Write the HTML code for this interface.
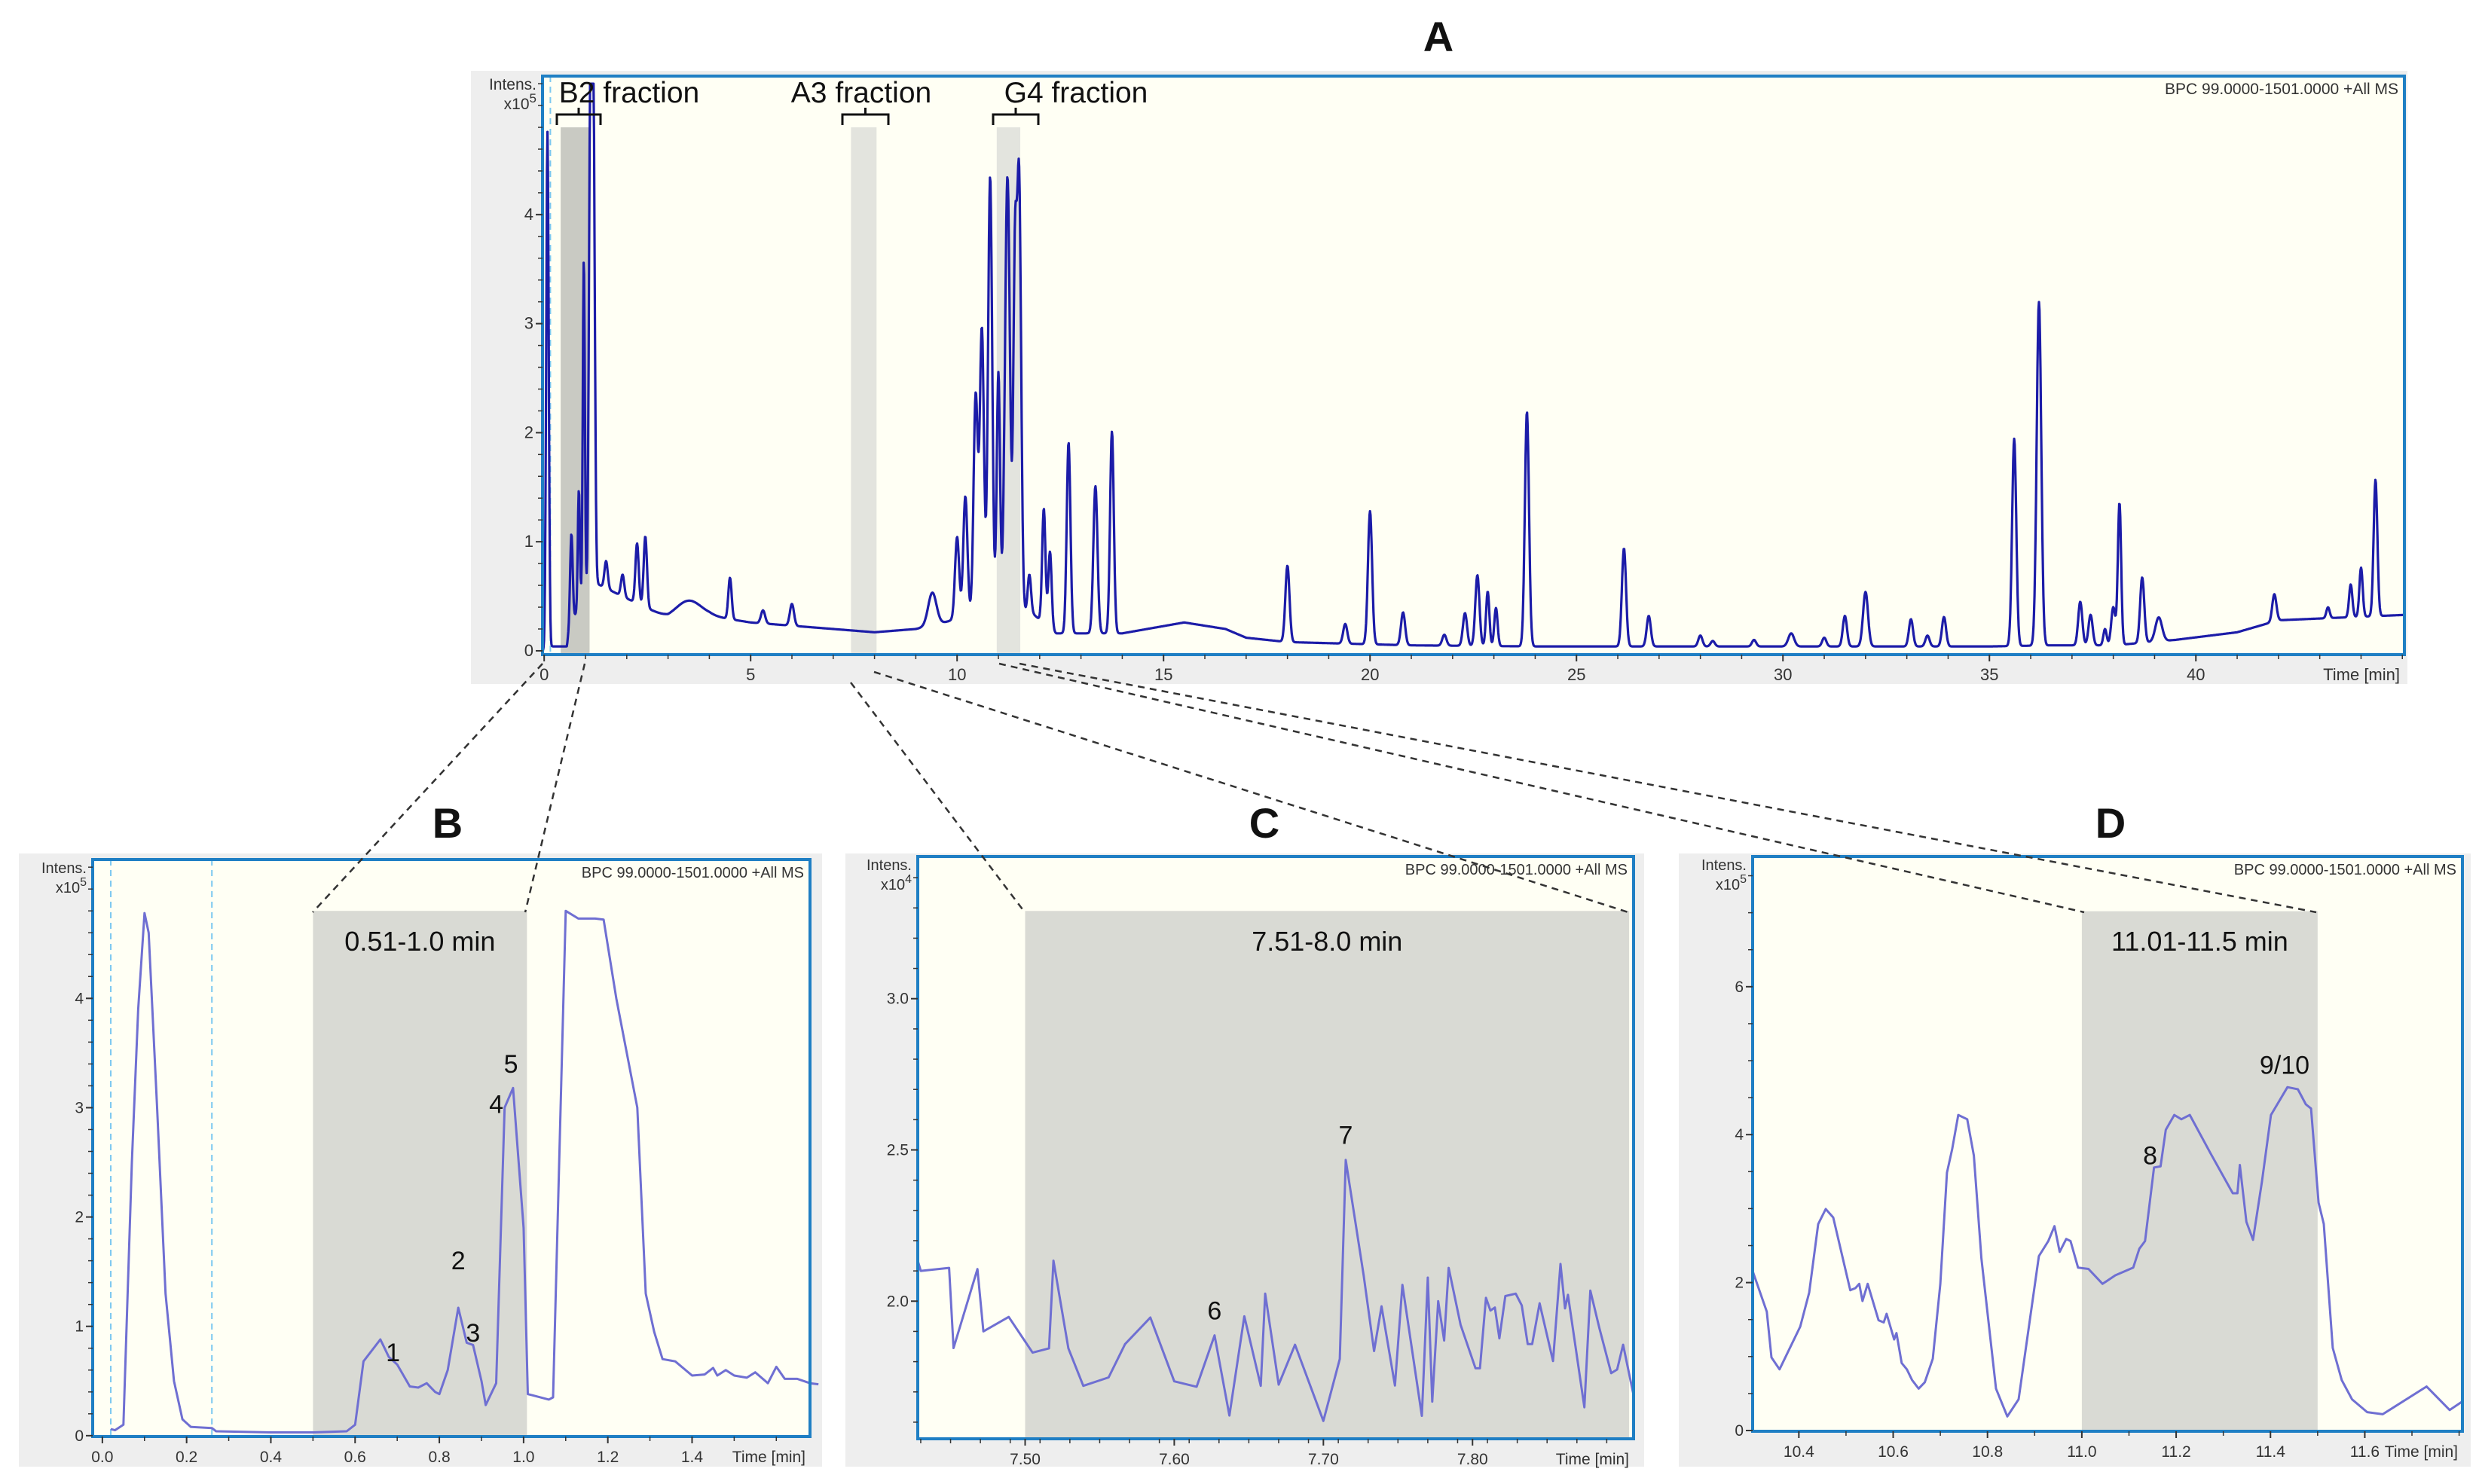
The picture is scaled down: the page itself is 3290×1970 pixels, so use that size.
<!DOCTYPE html>
<html><head><meta charset="utf-8"><style>
html,body{margin:0;padding:0;background:#fff}
svg{display:block;font-family:"Liberation Sans",sans-serif}
</style></head><body>
<svg id="fig" width="3290" height="1970" viewBox="0 0 3290 1970" xmlns="http://www.w3.org/2000/svg"></svg>
<script>
// ---------- Panel A data ----------
const aXTicks = [0,5,10,15,20,25,30,35,40];
const aYTicks = [0,1,2,3,4];
const aBaseT = [-0.04,0.05,0.2,0.55,0.62,1.25,2,3,4,5,7,8,9,9.6,10.5,11.8,12.4,14,15.5,16.5,17,18,19,21,24,30,35,36.5,38,39.5,41,42,45.1];
const aBaseV = [0,0,0.04,0.04,0.25,0.62,0.48,0.3,0.32,0.26,0.2,0.17,0.2,0.25,0.35,0.35,0.16,0.16,0.26,0.2,0.12,0.08,0.07,0.05,0.04,0.04,0.04,0.05,0.05,0.1,0.17,0.28,0.33];
const aPeakT = [0.08,0.66,0.84,0.96,1.12,1.19,1.5,1.9,2.25,2.45,3.5,4.5,5.3,6.0,9.4,10.0,10.2,10.45,10.6,10.8,11.0,11.22,11.4,11.5,11.75,12.1,12.25,12.7,13.35,13.75,18.0,19.4,20.0,20.8,21.8,22.3,22.6,22.85,23.05,23.8,26.15,26.75,28.0,28.3,29.3,30.2,31.0,31.5,32.0,33.1,33.5,33.9,35.6,36.2,37.2,37.45,37.8,38.0,38.15,38.7,39.1,41.9,43.2,43.75,44.0,44.35];
const aPeakH = [4.75,0.8,1.1,3.15,4.6,4.5,0.25,0.2,0.55,0.65,0.15,0.38,0.12,0.2,0.3,0.75,1.1,2.0,2.6,4.0,2.2,4.0,3.0,4.0,0.35,1.05,0.7,1.75,1.35,1.85,0.7,0.18,1.22,0.3,0.1,0.3,0.65,0.5,0.35,2.15,0.9,0.28,0.1,0.05,0.06,0.12,0.08,0.28,0.5,0.25,0.1,0.27,1.9,3.15,0.4,0.28,0.15,0.35,1.3,0.6,0.22,0.25,0.1,0.3,0.45,1.25];
const aPeakW = [0.03,0.03,0.025,0.025,0.035,0.035,0.04,0.04,0.04,0.04,0.3,0.04,0.05,0.05,0.1,0.05,0.05,0.05,0.05,0.05,0.04,0.06,0.04,0.05,0.04,0.04,0.04,0.045,0.05,0.045,0.05,0.05,0.05,0.05,0.05,0.05,0.05,0.04,0.04,0.05,0.05,0.05,0.05,0.05,0.05,0.07,0.05,0.05,0.06,0.05,0.05,0.05,0.05,0.055,0.05,0.05,0.04,0.05,0.04,0.05,0.08,0.05,0.04,0.04,0.04,0.045];

// ---------- Panel B data ----------
const bXTicks = [0,0.2,0.4,0.6,0.8,1.0,1.2,1.4];
const bXLabels = ["0.0","0.2","0.4","0.6","0.8","1.0","1.2","1.4"];
const bYTicks = [0,1,2,3,4];
const bT = [0.02,0.03,0.05,0.07,0.085,0.1,0.11,0.13,0.15,0.17,0.19,0.21,0.26,0.27,0.4,0.5,0.58,0.6,0.62,0.66,0.68,0.7,0.73,0.75,0.77,0.79,0.8,0.82,0.845,0.865,0.88,0.9,0.91,0.935,0.955,0.975,1.0,1.01,1.02,1.06,1.07,1.1,1.13,1.17,1.19,1.22,1.27,1.29,1.31,1.33,1.36,1.4,1.43,1.45,1.46,1.48,1.5,1.53,1.55,1.58,1.6,1.62,1.65,1.68,1.7];
const bV = [0.06,0.05,0.1,2.5,3.9,4.78,4.6,3.0,1.3,0.5,0.15,0.08,0.07,0.04,0.03,0.03,0.04,0.1,0.68,0.88,0.72,0.65,0.45,0.44,0.48,0.4,0.38,0.6,1.17,0.85,0.83,0.5,0.28,0.48,3.0,3.18,1.9,0.38,0.37,0.33,0.35,4.8,4.73,4.73,4.72,4.0,3.0,1.3,0.95,0.7,0.68,0.55,0.56,0.62,0.55,0.6,0.55,0.53,0.58,0.48,0.63,0.52,0.52,0.48,0.47];

// ---------- Panel C data ----------
const cXTicks = [7.5,7.6,7.7,7.8];
const cXLabels = ["7.50","7.60","7.70","7.80"];
const cYTicks = [2.0,2.5,3.0];
const cYLabels = ["2.0","2.5","3.0"];
const cT = [7.428,7.43,7.449,7.452,7.468,7.472,7.489,7.505,7.516,7.519,7.529,7.539,7.556,7.567,7.584,7.6,7.615,7.627,7.637,7.647,7.658,7.661,7.67,7.681,7.7,7.711,7.715,7.727,7.734,7.739,7.748,7.753,7.766,7.77,7.773,7.777,7.781,7.784,7.792,7.802,7.805,7.809,7.812,7.815,7.818,7.822,7.829,7.833,7.837,7.84,7.845,7.854,7.859,7.862,7.864,7.875,7.879,7.885,7.893,7.897,7.901,7.908];
const cV = [2.134,2.1,2.11,1.845,2.106,1.9,1.948,1.83,1.844,2.134,1.844,1.72,1.748,1.858,1.946,1.735,1.717,1.887,1.622,1.95,1.72,2.025,1.724,1.856,1.604,1.809,2.467,2.085,1.835,1.983,1.721,2.054,1.621,2.078,1.668,2.0,1.87,2.11,1.922,1.778,1.778,2.011,1.969,1.979,1.877,2.017,2.025,1.986,1.858,1.858,1.993,1.802,2.123,1.976,2.021,1.649,2.035,1.912,1.762,1.774,1.856,1.689];

// ---------- Panel D data ----------
const dXTicks = [10.4,10.6,10.8,11.0,11.2,11.4,11.6];
const dXLabels = ["10.4","10.6","10.8","11.0","11.2","11.4","11.6"];
const dYTicks = [0,2,4,6];
const dT = [10.302,10.332,10.342,10.359,10.403,10.422,10.441,10.457,10.473,10.509,10.52,10.528,10.535,10.546,10.569,10.58,10.586,10.602,10.607,10.618,10.629,10.64,10.654,10.667,10.684,10.7,10.714,10.725,10.738,10.757,10.771,10.787,10.818,10.842,10.866,10.909,10.929,10.942,10.953,10.967,10.976,10.992,11.014,11.044,11.071,11.109,11.122,11.134,11.153,11.167,11.178,11.196,11.211,11.229,11.273,11.32,11.33,11.335,11.349,11.363,11.382,11.401,11.436,11.458,11.475,11.486,11.502,11.513,11.532,11.551,11.573,11.605,11.638,11.731,11.78,11.807];
const dV = [2.156,1.607,0.988,0.827,1.405,1.867,2.79,2.994,2.879,1.896,1.925,1.983,1.751,1.983,1.491,1.462,1.578,1.231,1.318,0.913,0.827,0.682,0.566,0.653,0.971,1.983,3.486,3.803,4.266,4.208,3.717,2.329,0.566,0.191,0.422,2.358,2.561,2.763,2.416,2.59,2.561,2.202,2.185,1.983,2.098,2.202,2.457,2.561,3.555,3.572,4.064,4.266,4.208,4.266,3.746,3.208,3.208,3.59,2.821,2.578,3.37,4.266,4.642,4.613,4.41,4.353,3.081,2.792,1.116,0.682,0.422,0.249,0.22,0.595,0.277,0.393];

const NS='http://www.w3.org/2000/svg';
const svg=document.getElementById('fig');
function mk(tag,attrs,parent,text){const e=document.createElementNS(NS,tag);for(const k in attrs)e.setAttribute(k,attrs[k]);if(text!==undefined)e.textContent=text;(parent||svg).appendChild(e);return e;}

function panel(cfg){
  const g=mk('g',{});
  
  
  const bx=mk('rect',{x:cfg.box[0],y:cfg.box[1],width:cfg.box[2],height:cfg.box[3],fill:'#eeeeee'},g);
  
  
  const L=cfg.plot[0],T=cfg.plot[1],R=cfg.plot[2],B=cfg.plot[3];
  const sx=v=>L+(v-cfg.xd[0])/(cfg.xd[1]-cfg.xd[0])*(R-L);
  const sy=v=>B-(v-cfg.yd[0])/(cfg.yd[1]-cfg.yd[0])*(B-T);
  const bg=mk('rect',{x:L,y:T,width:R-L,height:B-T,fill:'#fffff4'},g);
  
  
  return {g,sx,sy,L,T,R,B};
}
function finish(p,cfg){
  const {g,sx,sy,L,T,R,B}=p;
  const fr=mk('rect',{x:L,y:T,width:R-L,height:B-T,fill:'none',stroke:'#1f7fc4','stroke-width':4},g);
  
  
  const fs=cfg.fs||21;
  cfg.xt.forEach((v,i)=>{
    const x=sx(v);
    const t=mk('line',{x1:x,y1:B,x2:x,y2:B+9,stroke:'#333','stroke-width':2},g);
    
    
    const lb=mk('text',{x:x,y:B+34,'font-size':fs,'text-anchor':'middle',fill:'#333'},g,cfg.xl?cfg.xl[i]:String(v));
    
    
  });
  if(cfg.xminor){for(let v=cfg.xminor[0];v<=cfg.xd[1];v+=cfg.xminor[1]){const x=sx(v);if(x<L||x>R)continue;const t=mk('line',{x1:x,y1:B,x2:x,y2:B+6,stroke:'#333','stroke-width':1.5},g);}}
  cfg.yt.forEach((v,i)=>{
    const y=sy(v);
    const t=mk('line',{x1:L-9,y1:y,x2:L,y2:y,stroke:'#333','stroke-width':2},g);
    
    
    const lb=mk('text',{x:L-12,y:y+7,'font-size':fs,'text-anchor':'end',fill:'#333'},g,cfg.yl?cfg.yl[i]:String(v));
    
    
  });
  if(cfg.yminor){for(let v=cfg.yminor[0];v<=cfg.yd[1];v+=cfg.yminor[1]){const y=sy(v);if(y<T||y>B)continue;const t=mk('line',{x1:L-6,y1:y,x2:L,y2:y,stroke:'#333','stroke-width':1.5},g);}}
  const ti=mk('text',{x:R-6,y:B+34,'font-size':fs,'text-anchor':'end',fill:'#333'},g,'Time [min]');
  
  
  const i1=mk('text',{x:L-8,y:T+18,'font-size':fs-1,'text-anchor':'end',fill:'#333'},g,'Intens.');
  
  
  const i2=mk('text',{x:L-8,y:T+44,'font-size':fs-1,'text-anchor':'end',fill:'#333'},g,'x10');
  
  
  mk('tspan',{'font-size':fs-5,dy:-9},i2,cfg.exp);
  const bp=mk('text',{x:R-8,y:T+24,'font-size':fs-1,'text-anchor':'end',fill:'#333'},g,'BPC 99.0000-1501.0000 +All MS');
  
  
}
function drawLine(p,ts,vs,color,w,name){
  let d='';ts.forEach((t,i)=>{d+=(i?'L':'M')+p.sx(t).toFixed(1)+' '+p.sy(vs[i]).toFixed(1);});
  const l=mk('path',{d:d,fill:'none',stroke:color,'stroke-width':w,'stroke-linejoin':'round'},p.g);
  
  
}
function shade(p,t0,t1,top,fill,name){
  const r=mk('rect',{x:p.sx(t0),y:top===null?p.T:p.sy(top),width:p.sx(t1)-p.sx(t0),height:p.B-(top===null?p.T:p.sy(top)),fill:fill},p.g);
  
  
}
function vdash(p,t,name){
  const l=mk('line',{x1:p.sx(t),y1:p.T,x2:p.sx(t),y2:p.B,stroke:'#7cc8f0','stroke-width':2,'stroke-dasharray':'8 6'},p.g);
  
  
}
function label(x,y,txt,fs,name,weight){
  const t=mk('text',{x:x,y:y,'font-size':fs,'text-anchor':'middle',fill:'#111','font-weight':weight||'normal'},svg,txt);
  
  
  return t;
}

// ---------- Panel A ----------
const cfgA={name:'panel-a',box:[625,94,2570,814],plot:[720,101,3191,869],xd:[-0.04,45.05],yd:[-0.035,5.27],xt:aXTicks,yt:aYTicks,xminor:[0,1],yminor:[0,0.2],exp:'5',fs:22};
const pA=panel(cfgA);
shade(pA,0.4,1.1,4.8,'#c9cac3','b2-fraction-band');
shade(pA,7.43,8.05,4.8,'#e3e4de','a3-fraction-band');
shade(pA,10.96,11.53,4.8,'#e3e4de','g4-fraction-band');
vdash(pA,0.15,'a-marker-line');
function interp(xs,ys,t){if(t<=xs[0])return ys[0];for(let i=1;i<xs.length;i++){if(t<=xs[i]){const f=(t-xs[i-1])/(xs[i]-xs[i-1]);return ys[i-1]+f*(ys[i]-ys[i-1]);}}return ys[ys.length-1];}
const aT=[],aV=[];
for(let t=-0.04;t<=45.05;t+=0.012){let v=interp(aBaseT,aBaseV,t);for(let k=0;k<aPeakT.length;k++){const z=(t-aPeakT[k])/aPeakW[k];if(Math.abs(z)<6)v+=aPeakH[k]*Math.exp(-z*z/2);}aT.push(t);aV.push(Math.min(v,5.2));}
drawLine(pA,aT,aV,'#1c1ca8',3.2,'bpc-trace-a');
finish(pA,cfgA);
// fraction brackets
[[739,797,'B2 fraction',835],[1118,1179,'A3 fraction',1143],[1318,1378,'G4 fraction',1428]].forEach(b=>{
  const m=(b[0]+b[1])/2;
  const br=mk('path',{d:`M${b[0]} 166 V152 H${b[1]} V166 M${m} 152 V143`,fill:'none',stroke:'#111','stroke-width':3});
  
  
  label(b[3],136,b[2],39,'fraction-label');
});
label(1909,68,'A',56,'panel-a-title','bold');

// ---------- Panel B ----------
const cfgB={name:'panel-b',box:[25,1133,1066,814],plot:[123,1141,1075,1907],xd:[-0.023,1.68],yd:[-0.008,5.27],xt:bXTicks,xl:bXLabels,yt:bYTicks,xminor:[0,0.1],yminor:[0,0.2],exp:'5'};
const pB=panel(cfgB);
vdash(pB,0.02,'b-marker-line');vdash(pB,0.26,'b-marker-line');
shade(pB,0.5,1.008,4.8,'#d9dad4','b-window-band');
drawLine(pB,bT,bV,'#6f6fd2',3,'bpc-trace-b');
finish(pB,cfgB);
label((pB.sx(0.5)+pB.sx(1.008))/2,1262,'0.51-1.0 min',36,'b-window-label');
[['1',0.69,0.68],['2',0.845,1.52],['3',0.88,0.86],['4',0.935,2.95],['5',0.97,3.32]].forEach(a=>label(pB.sx(a[1]),pB.sy(a[2]),a[0],34,'peak-label'));
label(594,1112,'B',56,'panel-b-title','bold');

// ---------- Panel C ----------
const cfgC={name:'panel-c',box:[1122,1133,1060,814],plot:[1218,1137,2168,1910],xd:[7.428,7.908],yd:[1.545,3.47],xt:cXTicks,xl:cXLabels,yt:cYTicks,yl:cYLabels,xminor:[7.43,0.02],yminor:[1.6,0.1],exp:'4'};
const pC=panel(cfgC);
shade(pC,7.5,7.905,3.29,'#d9dad4','c-window-band');
drawLine(pC,cT,cV,'#6f6fd2',3,'bpc-trace-c');
finish(pC,cfgC);
label((pC.sx(7.5)+pC.sx(7.905))/2,1262,'7.51-8.0 min',36,'c-window-label');
[['6',7.627,1.94],['7',7.715,2.52]].forEach(a=>label(pC.sx(a[1]),pC.sy(a[2]),a[0],34,'peak-label'));
label(1678,1112,'C',56,'panel-c-title','bold');

// ---------- Panel D ----------
const cfgD={name:'panel-d',box:[2228,1133,1051,814],plot:[2326,1137,3268,1900],xd:[10.302,11.807],yd:[-0.01,7.76],xt:dXTicks,xl:dXLabels,yt:dYTicks,xminor:[10.3,0.1],yminor:[0,0.5],exp:'5'};
const pD=panel(cfgD);
shade(pD,11.0,11.5,7.02,'#d9dad4','d-window-band');
drawLine(pD,dT,dV,'#6f6fd2',3,'bpc-trace-d');
finish(pD,cfgD);
label((pD.sx(11.0)+pD.sx(11.5))/2,1262,'11.01-11.5 min',36,'d-window-label');
[['8',11.145,3.6],['9/10',11.43,4.82]].forEach(a=>label(pD.sx(a[1]),pD.sy(a[2]),a[0],34,'peak-label'));
label(2801,1112,'D',56,'panel-d-title','bold');

// ---------- zoom connector lines ----------
[[720,881,415,1211],[776,881,697,1211],[1129,906,1360,1211],[1160,892,2161,1211],[1326,881,2766,1211],[1353,881,3074,1211]].forEach(c=>{
  const l=mk('line',{x1:c[0],y1:c[1],x2:c[2],y2:c[3],stroke:'#333','stroke-width':2.5,'stroke-dasharray':'9 7'});
  
  
});
</script>
</body></html>
